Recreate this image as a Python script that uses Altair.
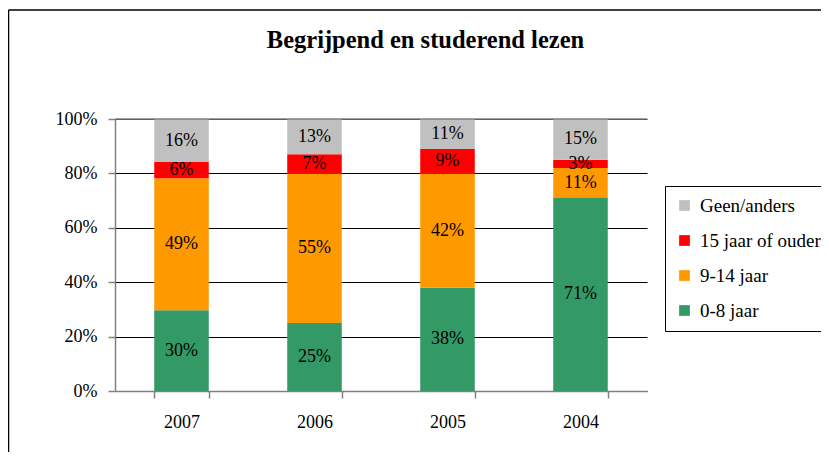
import altair as alt
import pandas as pd

years = ["2007", "2006", "2005", "2004"]
categories = ["0-8 jaar", "9-14 jaar", "15 jaar of ouder", "Geen/anders"]
vals_0_8 = [30, 25, 38, 71]
vals_9_14 = [49, 55, 42, 11]
vals_15 = [6, 7, 9, 3]
vals_geen = [16, 13, 11, 15]
legend_order = ["Geen/anders", "15 jaar of ouder", "9-14 jaar", "0-8 jaar"]
legend_colors = ["#C0C0C0", "#FF0000", "#FF9900", "#339966"]
title_text = ["Begrijpend en studerend lezen"]

series = [vals_0_8, vals_9_14, vals_15, vals_geen]
rows = []
for ci, (cat, vals) in enumerate(zip(categories, series)):
    for yi, yr in enumerate(years):
        rows.append({"year": yr, "cat": cat, "value": vals[yi], "order": ci})
df = pd.DataFrame(rows)

FONT = "Liberation Serif"

base = (
    alt.Chart(df)
    .transform_joinaggregate(total="sum(value)", groupby=["year"])
    .transform_calculate(pct="datum.value / datum.total", label="datum.value + '%'")
    .transform_stack(stack="pct", as_=["y0", "y1"], groupby=["year"],
                     sort=[alt.SortField("order", order="ascending")])
    .transform_calculate(mid="(datum.y0 + datum.y1) / 2")
)

xenc = alt.X("year:N", sort=years, title=None,
             scale=alt.Scale(paddingInner=0.59, paddingOuter=0.295),
             axis=alt.Axis(labelAngle=0, tickBand="extent", tickSize=7,
                           labelPadding=15, labelFont=FONT, labelFontSize=18,
                           labelColor="black", domainColor="#808080",
                           tickColor="#808080", domainWidth=1.5, tickWidth=1.5,
                           grid=False))

bars = base.mark_bar().encode(
    x=xenc,
    y=alt.Y("y0:Q", scale=alt.Scale(domain=[0, 1], nice=False), title=None,
            axis=alt.Axis(values=[0, 0.2, 0.4, 0.6, 0.8, 1.0], format=".0%",
                          tickSize=7, labelPadding=11, labelFont=FONT,
                          labelFontSize=18, labelColor="black",
                          domainColor="#808080", tickColor="#808080",
                          domainWidth=1.5, tickWidth=1.5,
                          grid=True, gridColor="black", gridWidth=1.2)),
    y2="y1:Q",
    color=alt.Color("cat:N", scale=alt.Scale(domain=legend_order, range=legend_colors),
                    title=None,
                    legend=alt.Legend(orient="none", legendX=550, legendY=67,
                                      symbolType="square", symbolSize=115,
                                      symbolStrokeWidth=0, labelFont=FONT,
                                      labelFontSize=19, labelColor="black",
                                      rowPadding=15, labelOffset=6,
                                      padding=10, strokeColor="black",
                                      labelLimit=300)),
)

texts = base.mark_text(font=FONT, fontSize=18, color="black").encode(
    x=alt.X("year:N", sort=years),
    y=alt.Y("mid:Q"),
    text="label:N",
)

top_grid = alt.Chart(pd.DataFrame({"v": [1.0]})).mark_rule(color="#808080", strokeWidth=1.5).encode(
    y="v:Q"
)

title = alt.Chart(pd.DataFrame({"t": title_text})).mark_text(
    font=FONT, fontSize=24.5, fontWeight="bold", color="black",
    align="center", baseline="alphabetic"
).encode(x=alt.value(310.5), y=alt.value(-71), text="t:N")

border_left = alt.Chart(pd.DataFrame({"a": [0]})).mark_rule(color="black", strokeWidth=1.5).encode(
    x=alt.value(-106.5), y=alt.value(-109), y2=alt.value(400)
)
border_top = alt.Chart(pd.DataFrame({"a": [0]})).mark_rule(color="black", strokeWidth=1.5).encode(
    x=alt.value(-106.5), x2=alt.value(760), y=alt.value(-109)
)

chart = (
    alt.layer(bars, top_grid, texts, title, border_left, border_top)
    .properties(
        width=532, height=272,
        autosize=alt.AutoSizeParams(type="none"),
        padding={"left": 107, "top": 111, "right": 174, "bottom": 61},
    )
    .configure_view(stroke=None)
)

chart.save("out.html", embed_options={"renderer": "svg", "actions": False})
